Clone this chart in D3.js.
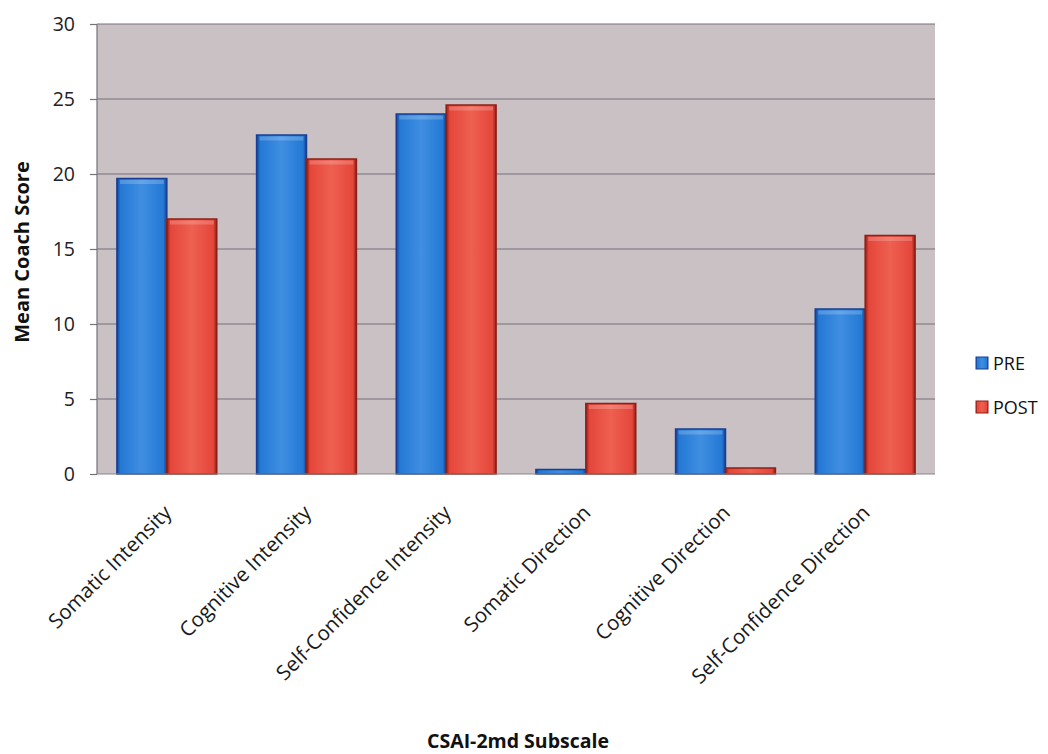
<!DOCTYPE html>
<html>
<head>
<meta charset="utf-8">
<script src="https://cdn.jsdelivr.net/npm/d3@7"></script>
<style>
  html, body { margin: 0; padding: 0; background: #ffffff; }
  svg { display: block; font-family: "Open Sans", Lato, sans-serif; }
</style>
</head>
<body>
<svg id="chart" width="1048" height="754"></svg>
<script>
// CSAI-2md subscale means, before and after the intervention
const categories = [
  "Somatic Intensity",
  "Cognitive Intensity",
  "Self-Confidence Intensity",
  "Somatic Direction",
  "Cognitive Direction",
  "Self-Confidence Direction"
];
const seriesNames = ["PRE", "POST"];
const preValues  = [19.7, 22.6, 24.0, 0.3, 3.0, 11.0];
const postValues = [17.0, 21.0, 24.6, 4.7, 0.4, 15.9];
const yTicks = [0, 5, 10, 15, 20, 25, 30];

const svg = d3.select("#chart");
const margin = { left: 97, top: 24, right: 113, bottom: 280 };
const W = 1048, H = 754;
const plotW = W - margin.left - margin.right;
const plotH = H - margin.top - margin.bottom;
const FONT = "'Open Sans', sans-serif";

const colors = {
  PRE:  { fill: "#2479d4", light: "#3f8ee2", dark: "#163f94" },
  POST: { fill: "#e4463a", light: "#ee6050", dark: "#8e1f16" }
};

const defs = svg.append("defs");
seriesNames.forEach(s => {
  const g = defs.append("linearGradient").attr("id", "grad-" + s)
    .attr("x1", "0").attr("x2", "1").attr("y1", "0").attr("y2", "0");
  g.append("stop").attr("offset", "0%").attr("stop-color", colors[s].dark);
  g.append("stop").attr("offset", "7%").attr("stop-color", colors[s].fill);
  g.append("stop").attr("offset", "50%").attr("stop-color", colors[s].light);
  g.append("stop").attr("offset", "93%").attr("stop-color", colors[s].fill);
  g.append("stop").attr("offset", "100%").attr("stop-color", colors[s].dark);
});

const x0 = d3.scaleBand().domain(categories).range([0, plotW]).paddingInner(0.285).paddingOuter(0.1425);
const x1 = d3.scaleBand().domain(seriesNames).range([0, x0.bandwidth()]);
const y = d3.scaleLinear().domain([0, 30]).range([plotH, 0]);

const g = svg.append("g").attr("transform", `translate(${margin.left},${margin.top})`);

// plot background
g.append("rect").attr("x", 0).attr("y", 0).attr("width", plotW).attr("height", plotH)
  .attr("fill", "#c9c1c4");

// horizontal gridlines
g.append("g").selectAll("line").data(yTicks.filter(t => t > 0)).join("line")
  .attr("x1", 0).attr("x2", plotW)
  .attr("y1", d => y(d)).attr("y2", d => y(d))
  .attr("stroke", "#77727a").attr("stroke-width", 1.2);

// bars
const rows = categories.map((c, i) => ({ c, PRE: preValues[i], POST: postValues[i] }));
const groups = g.append("g").selectAll("g").data(rows).join("g")
  .attr("transform", d => `translate(${x0(d.c)},0)`);

groups.selectAll("rect.bar").data(d => seriesNames.map(s => ({ s, v: d[s] }))).join("rect")
  .attr("class", "bar")
  .attr("x", d => x1(d.s))
  .attr("width", x1.bandwidth())
  .attr("y", d => y(d.v))
  .attr("height", d => y(0) - y(d.v))
  .attr("fill", d => `url(#grad-${d.s})`)
  .attr("stroke", d => colors[d.s].dark)
  .attr("stroke-width", 1.5);

// top bevel highlight
groups.selectAll("rect.cap").data(d => seriesNames.map(s => ({ s, v: d[s] })).filter(e => y(0) - y(e.v) > 8)).join("rect")
  .attr("class", "cap")
  .attr("x", d => x1(d.s) + 3)
  .attr("width", x1.bandwidth() - 6)
  .attr("y", d => y(d.v) + 1.5)
  .attr("height", 4)
  .attr("fill", "#ffffff").attr("opacity", 0.2);

// left edge of plot and baseline
g.append("line").attr("x1", 0).attr("x2", 0).attr("y1", 0).attr("y2", plotH)
  .attr("stroke", "#77727a").attr("stroke-width", 1.2);
g.append("line").attr("x1", 0).attr("x2", plotW).attr("y1", plotH).attr("y2", plotH)
  .attr("stroke", "#8a8588").attr("stroke-width", 1.2);

// y axis
const yAxis = g.append("g").call(d3.axisLeft(y).tickValues(yTicks).tickSize(7).tickPadding(15));
yAxis.select(".domain").remove();
yAxis.selectAll(".tick line").attr("stroke", "#77727a").attr("stroke-width", 1.2);
yAxis.selectAll(".tick text").attr("font-size", 19.5).attr("fill", "#222").attr("font-family", FONT);

// x category labels
const xAxis = g.append("g").attr("transform", `translate(0,${plotH})`)
  .call(d3.axisBottom(x0).tickSize(0).tickPadding(0));
xAxis.select(".domain").remove();
xAxis.selectAll(".tick text")
  .attr("font-size", 20.5).attr("fill", "#1a1a1a").attr("font-family", FONT)
  .attr("text-anchor", "end")
  .attr("dy", "0")
  .attr("transform", "translate(6,40) rotate(-45)");

// axis titles
svg.append("text")
  .attr("transform", `translate(29,${margin.top + plotH / 2 + 3}) rotate(-90)`)
  .attr("text-anchor", "middle")
  .attr("font-size", 20).attr("font-weight", "bold").attr("fill", "#111").attr("font-family", FONT)
  .text("Mean Coach Score");

svg.append("text")
  .attr("x", 518).attr("y", 748)
  .attr("text-anchor", "middle")
  .attr("font-size", 19.5).attr("font-weight", "bold").attr("fill", "#111").attr("font-family", FONT)
  .text("CSAI-2md Subscale");

// legend
const legend = svg.append("g").attr("transform", "translate(976,357)");
seriesNames.forEach((s, i) => {
  const row = legend.append("g").attr("transform", `translate(0,${i * 44})`);
  row.append("rect").attr("x", 0).attr("y", 0).attr("width", 12).attr("height", 12)
    .attr("fill", `url(#grad-${s})`).attr("stroke", colors[s].dark).attr("stroke-width", 1);
  row.append("text").attr("x", 17).attr("y", 13)
    .attr("font-size", 18).attr("fill", "#111").attr("font-family", FONT).text(s);
});
</script>
</body>
</html>
